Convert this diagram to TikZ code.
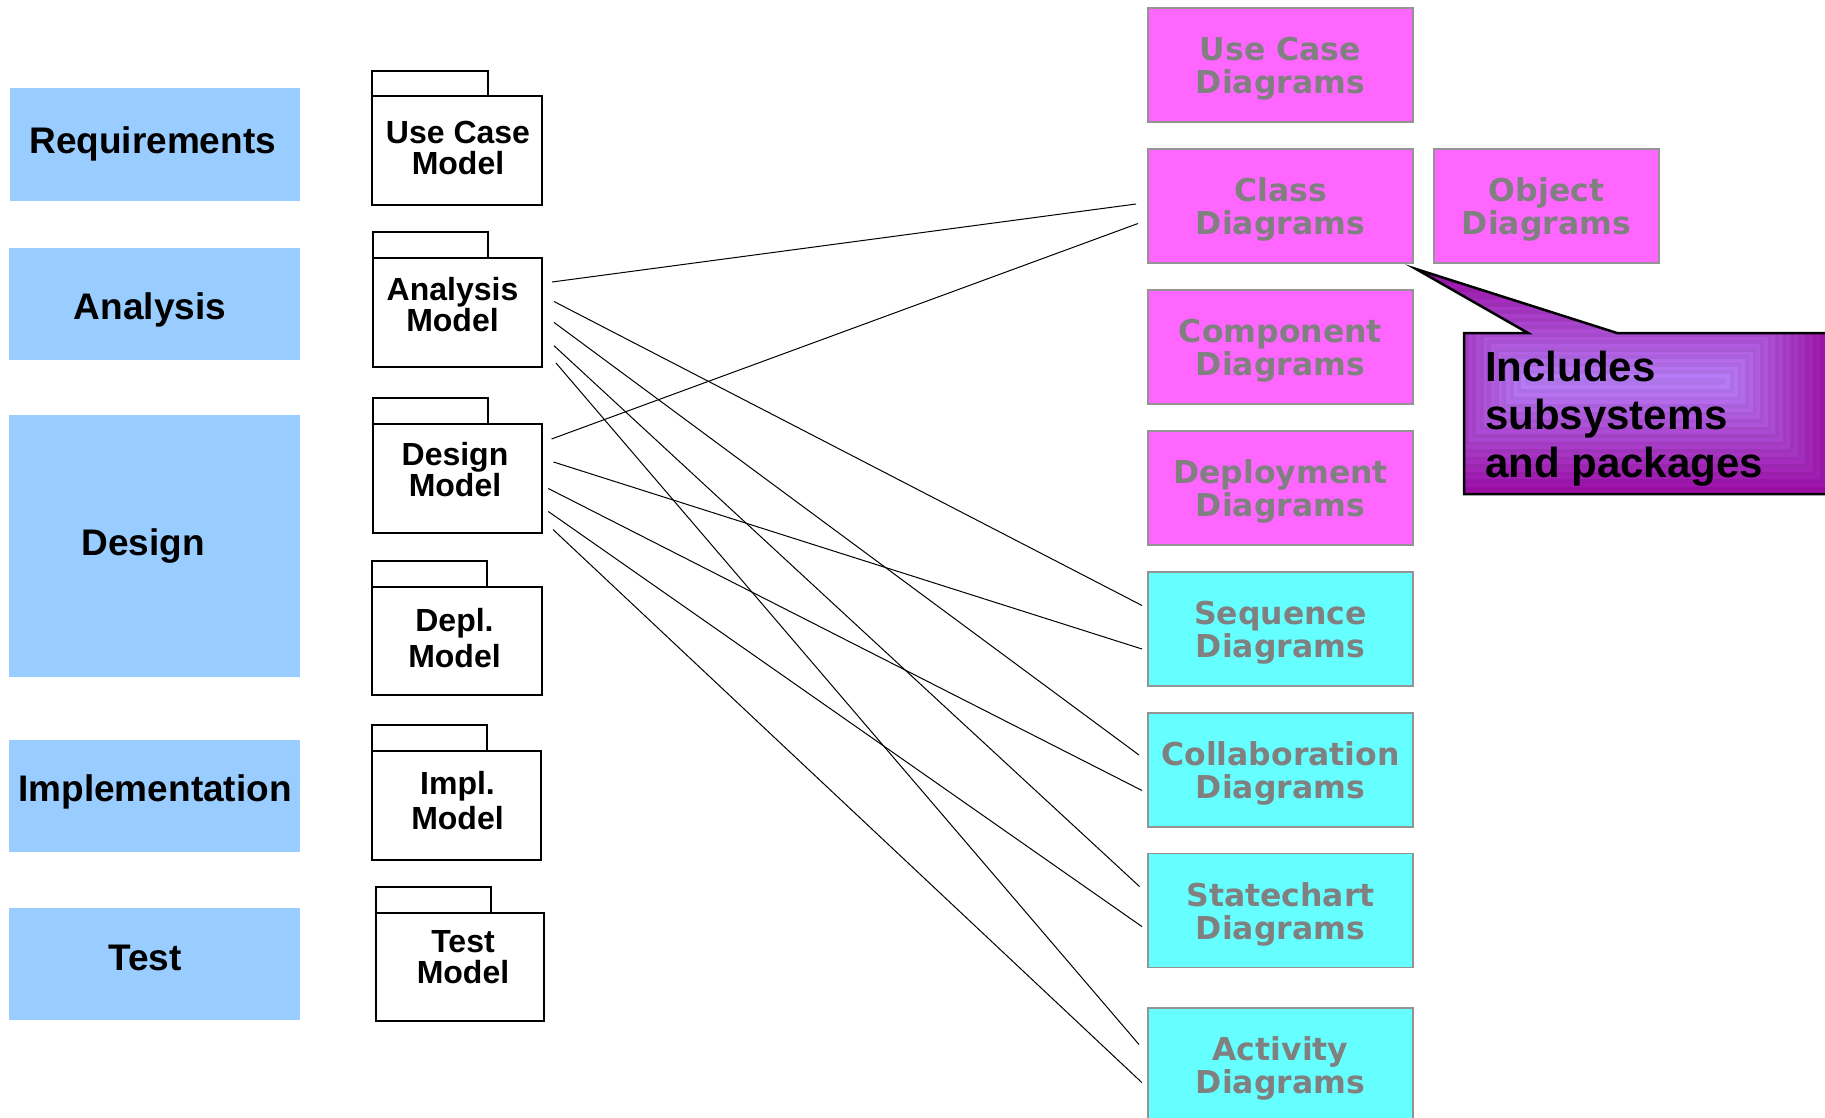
\documentclass[tikz,border=0pt]{standalone}
\usepackage{fontspec}
\setmainfont{Liberation Sans}
\newfontfamily\diagfont{DejaVu Sans}
\usetikzlibrary{fit}

\definecolor{phaseblue}{RGB}{153,204,255}
\definecolor{diagpink}{RGB}{255,102,255}
\definecolor{diagcyan}{RGB}{102,255,255}
\definecolor{diagedge}{RGB}{148,148,148}
\definecolor{diagtext}{RGB}{128,128,128}
\definecolor{noteouter}{RGB}{158,14,168}
\definecolor{noteinner}{RGB}{186,126,250}

% extra height on the first line keeps the two-line labels a little lower in their boxes
\newcommand\dstrut{\rule{0pt}{31pt}}

\begin{document}
\begin{tikzpicture}[x=1pt,y=-1pt,
  phase/.style={fill=phaseblue, inner sep=0pt, outer sep=0pt},
  phasetext/.style={anchor=base, inner sep=0pt, font=\bfseries\fontsize{37}{40}\selectfont},
  pkgpart/.style={draw, line width=2pt, fill=white, inner sep=0pt, outer sep=0pt},
  pkgtext/.style={anchor=north, inner sep=0pt, align=center,
    font=\bfseries\fontsize{32}{31}\selectfont},
  pkgtextwide/.style={pkgtext, font=\bfseries\fontsize{32}{35.5}\selectfont},
  diagbox/.style={draw=diagedge, line width=1.8pt, minimum width=265pt, minimum height=114pt,
    inner sep=0pt, outer sep=0pt, align=center, text=diagtext,
    font=\diagfont\bfseries\fontsize{31.5}{33}\selectfont},
  umlstatic/.style={diagbox, fill=diagpink},
  umldynamic/.style={diagbox, fill=diagcyan},
  link/.style={line width=1pt, black}
]
\useasboundingbox (0,0) rectangle (1825,1117);

% workflow phases
\node[phase, fit={(10,88) (300,201)}] (req) {};
\node[phase, fit={(9,248) (300,360)}] (ana) {};
\node[phase, fit={(9,415) (300,676.5)}] (des) {};
\node[phase, fit={(9,740) (300,852)}] (imp) {};
\node[phase, fit={(9,907.5) (300,1020)}] (tst) {};
\node[phasetext] (reqt) at (152.7,153.3) {Requirements};
\node[phasetext] (anat) at (150,319) {Analysis};
\node[phasetext] (dest) at (143,555) {Design};
\node[phasetext] (impt) at (155,801.7) {Implementation};
\node[phasetext] (tstt) at (145,970) {Test};

% models as packages: tab, then body
\node[pkgpart, fit={(372,71) (488,96)}] (ucmtab) {};
\node[pkgpart, fit={(372,96) (542,205)}] (ucm) {};
\node[pkgpart, fit={(373,232) (488,258)}] (anmtab) {};
\node[pkgpart, fit={(373,258) (542,367)}] (anm) {};
\node[pkgpart, fit={(373,398) (488,424)}] (demtab) {};
\node[pkgpart, fit={(373,424) (542,533)}] (dem) {};
\node[pkgpart, fit={(372,561) (487,587)}] (dpmtab) {};
\node[pkgpart, fit={(372,587) (542,695)}] (dpm) {};
\node[pkgpart, fit={(372,725) (487,751)}] (immtab) {};
\node[pkgpart, fit={(372,751) (541,860)}] (imm) {};
\node[pkgpart, fit={(376,887) (491,913)}] (temtab) {};
\node[pkgpart, fit={(376,913) (544,1021)}] (tem) {};

\node[pkgtext] (ucmt) at (458,121) {Use Case\\Model};
\node[pkgtext] (anmt) at (452.5,277) {Analysis\\Model};
\node[pkgtext] (demt) at (455,442.5) {Design\\Model};
\node[pkgtextwide] (dpmt) at (454.5,608.5) {Depl.\\Model};
\node[pkgtextwide] (immt) at (457.5,771) {Impl.\\Model};
\node[pkgtext] (temt) at (463,930) {Test\\Model};

% UML diagram kinds
\node[umlstatic] (ucd) at (1280.5,65) {\dstrut Use Case\\Diagrams};
\node[umlstatic] (cld) at (1280.5,206) {\dstrut Class\\Diagrams};
\node[umlstatic, minimum width=225pt] (obd) at (1546.5,206) {\dstrut Object\\Diagrams};
\node[umlstatic] (cpd) at (1280.5,347) {\dstrut Component\\Diagrams};
\node[umlstatic] (dpd) at (1280.5,488) {\dstrut Deployment\\Diagrams};
\node[umldynamic] (sqd) at (1280.5,629) {\dstrut Sequence\\Diagrams};
\node[umldynamic] (cod) at (1280.5,770) {\dstrut Collaboration\\Diagrams};
\node[umldynamic] (std) at (1280.5,910.5) {\dstrut Statechart\\Diagrams};
\node[umldynamic] (acd) at (1280.5,1065) {\dstrut Activity\\Diagrams};

% analysis model links
\draw[link] ([shift={(10,24)}]anm.north east) -- ([shift={(-12,-2)}]cld.west);
\draw[link] ([shift={(12,43.5)}]anm.north east) -- ([shift={(-6,-23.5)}]sqd.west);
\draw[link] ([shift={(12,64.4)}]anm.north east) -- ([shift={(-9,-15)}]cod.west);
\draw[link] ([shift={(12,87.7)}]anm.north east) -- ([shift={(-8.5,-24)}]std.west);
\draw[link] ([shift={(14,105)}]anm.north east) -- ([shift={(-9,-20.5)}]acd.west);
% design model links
\draw[link] ([shift={(9.5,15)}]dem.north east) -- ([shift={(-10,17.5)}]cld.west);
\draw[link] ([shift={(11.5,38)}]dem.north east) -- ([shift={(-6,20)}]sqd.west);
\draw[link] ([shift={(6.3,64.5)}]dem.north east) -- ([shift={(-6,20.5)}]cod.west);
\draw[link] ([shift={(6.3,87.5)}]dem.north east) -- ([shift={(-6,16.1)}]std.west);
\draw[link] ([shift={(11,105.5)}]dem.north east) -- ([shift={(-6,17.7)}]acd.west);

% callout with stepped rectangular gradient
\begin{scope}
  \clip (1416,269) -- (1617,333) -- (1835,333) -- (1835,494) -- (1464,494) -- (1464,333) -- (1528,333) -- cycle;
  \foreach \i in {0,...,29} {
    \pgfmathsetmacro{\d}{\i*3.75}
    \pgfmathtruncatemacro{\p}{\i*100/29}
    \pgfmathtruncatemacro{\shade}{100-6*mod(\i,2)}
    \fill[noteinner!\p!noteouter!\shade!black] (1416+\d,269+\d) rectangle (1835-\d,494-\d);
  }
\end{scope}
\draw[line width=2.5pt, line join=miter] (1416,269) -- (1617,333) -- (1835,333) -- (1835,494) -- (1464,494) -- (1464,333) -- (1528,333) -- cycle;
\node[anchor=north west, inner sep=0pt, align=left, font=\bfseries\fontsize{42}{48}\selectfont] (note) at (1485,351) {Includes\\subsystems\\and packages};
\end{tikzpicture}
\end{document}
